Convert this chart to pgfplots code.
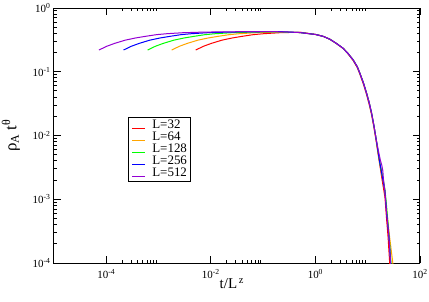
\documentclass[border=0pt]{standalone}
\usepackage{fontspec}
\setmainfont{Liberation Serif}
\usepackage{pgfplots}
\usepackage{pgfplotstable}
\pgfplotsset{compat=1.18}
\definecolor{gorange}{RGB}{255,165,0}
\definecolor{ggreen}{RGB}{0,255,0}
\definecolor{gviolet}{RGB}{148,0,211}
\pgfplotsset{legend image code/.code={\draw[#1, line width=1bp] (0bp,0bp) -- (13bp,0bp);}}

% columns: log10(t/L^z)  log10(rho_A t^theta)
\pgfplotstableread{
lx ly
-2.29 -0.659
-2.14 -0.600
-1.99 -0.555
-1.79 -0.505
-1.59 -0.470
-1.39 -0.443
-1.19 -0.418
-0.99 -0.403
-0.69 -0.388
-0.29 -0.380
0 -0.415
0.15 -0.445
0.277 -0.492
0.4 -0.558
0.531 -0.636
0.62 -0.716
0.723 -0.825
0.8 -0.935
0.851 -1.04
0.92 -1.20
0.979 -1.36
1.03 -1.52
1.075 -1.68
1.12 -1.88
1.16 -2.08
1.20 -2.30
1.233 -2.47
1.28 -2.72
1.33 -2.97
1.36 -3.3
1.39 -3.6
1.42 -4.0
1.44 -4.3
}\tabred
\pgfplotstableread{
lx ly
-2.75 -0.659
-2.60 -0.600
-2.45 -0.555
-2.25 -0.505
-2.05 -0.470
-1.85 -0.443
-1.65 -0.418
-1.45 -0.403
-1.15 -0.388
-0.75 -0.378
-0.3 -0.385
0 -0.415
0.15 -0.445
0.277 -0.49
0.4 -0.555
0.531 -0.632
0.62 -0.71
0.723 -0.816
0.8 -0.92
0.851 -1.024
0.92 -1.18
0.979 -1.338
1.03 -1.49
1.075 -1.652
1.12 -1.85
1.16 -2.05
1.20 -2.26
1.233 -2.436
1.28 -2.65
1.33 -2.88
1.36 -3.15
1.39 -3.38
1.42 -3.6
1.45 -3.8
1.48 -4.0
1.50 -4.3
}\taborange
\pgfplotstableread{
lx ly
-3.21 -0.659
-3.06 -0.600
-2.91 -0.555
-2.71 -0.505
-2.51 -0.470
-2.31 -0.443
-2.11 -0.418
-1.91 -0.403
-1.61 -0.388
-1.21 -0.378
-0.71 -0.373
-0.3 -0.385
0 -0.415
0.15 -0.445
0.277 -0.49
0.4 -0.555
0.531 -0.632
0.62 -0.71
0.723 -0.816
0.8 -0.92
0.851 -1.024
0.92 -1.18
0.979 -1.338
1.03 -1.49
1.075 -1.652
1.12 -1.85
1.16 -2.05
1.20 -2.26
1.233 -2.436
1.30 -2.70
1.33 -2.85
1.36 -3.1
1.39 -3.4
1.42 -3.7
1.445 -4.0
1.47 -4.3
}\tabgreen
\pgfplotstableread{
lx ly
-3.67 -0.659
-3.52 -0.600
-3.37 -0.555
-3.17 -0.505
-2.97 -0.470
-2.77 -0.443
-2.57 -0.418
-2.37 -0.403
-2.07 -0.388
-1.67 -0.378
-1.17 -0.373
-0.67 -0.371
-0.3 -0.385
0 -0.415
0.15 -0.445
0.277 -0.49
0.4 -0.555
0.531 -0.632
0.62 -0.71
0.723 -0.816
0.8 -0.92
0.851 -1.024
0.92 -1.18
0.979 -1.338
1.03 -1.49
1.075 -1.652
1.12 -1.85
1.16 -2.05
1.20 -2.26
1.233 -2.436
1.28 -2.65
1.33 -2.88
1.36 -3.2
1.39 -3.45
1.411 -3.64
1.438 -4.0
1.46 -4.3
}\tabblue
\pgfplotstableread{
lx ly
-4.14 -0.659
-3.99 -0.600
-3.84 -0.555
-3.64 -0.505
-3.44 -0.470
-3.24 -0.443
-3.04 -0.418
-2.84 -0.403
-2.54 -0.388
-2.14 -0.378
-1.64 -0.373
-1.14 -0.371
-0.6 -0.373
-0.3 -0.385
0 -0.415
0.15 -0.445
0.277 -0.49
0.4 -0.555
0.531 -0.632
0.62 -0.71
0.723 -0.816
0.8 -0.92
0.851 -1.024
0.92 -1.18
0.979 -1.338
1.03 -1.49
1.075 -1.652
1.12 -1.85
1.16 -2.05
1.20 -2.22
1.24 -2.38
1.27 -2.47
1.29 -2.56
1.30 -2.68
1.33 -2.88
1.36 -3.2
1.39 -3.45
1.411 -3.64
1.438 -4.0
1.46 -4.3
}\tabviolet

\begin{document}
\begin{tikzpicture}
\begin{axis}[
  at={(0,0)}, anchor=south west,
  scale only axis, width=366bp, height=255bp,
  xmode=log, ymode=log,
  xmin=1e-5, xmax=1e2, ymin=1e-4, ymax=1,
  axis line style={line width=1bp},
  xtick={1e-4,1e-2,1,1e2},
  xticklabels={10\textsuperscript{-4},10\textsuperscript{-2},10\textsuperscript{0},10\textsuperscript{2}},
  minor xtick={2e-4,3e-4,4e-4,5e-4,6e-4,7e-4,8e-4,9e-4,2e-2,3e-2,4e-2,5e-2,6e-2,7e-2,8e-2,9e-2,2,3,4,5,6,7,8,9},
  ytick={1e-4,1e-3,1e-2,1e-1,1},
  yticklabels={10\textsuperscript{-4},10\textsuperscript{-3},10\textsuperscript{-2},10\textsuperscript{-1},10\textsuperscript{0}},
  minor ytick={2e-4,3e-4,4e-4,5e-4,6e-4,7e-4,8e-4,9e-4,2e-3,3e-3,4e-3,5e-3,6e-3,7e-3,8e-3,9e-3,2e-2,3e-2,4e-2,5e-2,6e-2,7e-2,8e-2,9e-2,2e-1,3e-1,4e-1,5e-1,6e-1,7e-1,8e-1,9e-1},
  tick align=inside,
  major tick length=7bp, minor tick length=3.5bp,
  every tick/.style={black, line width=0.9bp},
  tick label style={font=\fontsize{11}{12}\selectfont},
  xticklabel style={yshift=-3bp},
  xlabel={t/L\textsuperscript{\,z}},
  ylabel={ρ\textsubscript{A} t\textsuperscript{θ}},
  xlabel style={font=\fontsize{15}{16}\selectfont, at={(axis description cs:0.486,-0.08)}, anchor=center},
  ylabel style={font=\fontsize{17}{18}\selectfont, at={(axis description cs:-0.118,0.5)}, anchor=center},
  legend style={at={(0.202,0.573)}, anchor=north west, draw=black, line width=0.8bp,
    font=\fontsize{13}{13}\selectfont, inner xsep=3.5bp, inner ysep=2.5bp,
    nodes={inner sep=0pt, text height=8.6bp, text depth=2.4bp, anchor=base west},
    row sep=1.1bp, column sep=6.5bp},
  legend cell align=left,
  every axis plot/.append style={line width=1bp},
]
\addplot[red, no marks] table[x expr={10^\thisrow{lx}}, y expr={10^\thisrow{ly}}] {\tabred};
\addlegendentry{L=32}
\addplot[gorange, no marks] table[x expr={10^\thisrow{lx}}, y expr={10^\thisrow{ly}}] {\taborange};
\addlegendentry{L=64}
\addplot[ggreen, no marks] table[x expr={10^\thisrow{lx}}, y expr={10^\thisrow{ly}}] {\tabgreen};
\addlegendentry{L=128}
\addplot[blue, no marks] table[x expr={10^\thisrow{lx}}, y expr={10^\thisrow{ly}}] {\tabblue};
\addlegendentry{L=256}
\addplot[gviolet, no marks] table[x expr={10^\thisrow{lx}}, y expr={10^\thisrow{ly}}] {\tabviolet};
\addlegendentry{L=512}
\end{axis}
\pgfresetboundingbox
\path (-54bp,-39bp) rectangle (375bp,263bp);
\end{tikzpicture}
\end{document}
